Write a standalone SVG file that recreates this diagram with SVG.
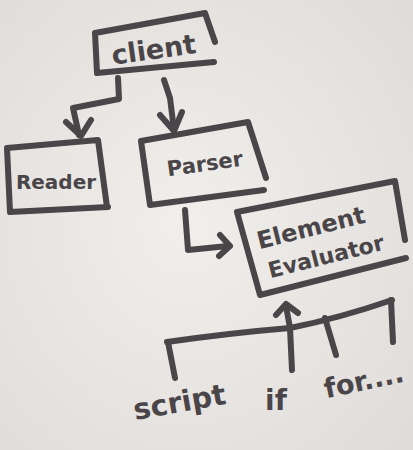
<svg xmlns="http://www.w3.org/2000/svg" width="413" height="450" viewBox="0 0 413 450">
<defs>
<radialGradient id="bg" cx="0.45" cy="0.5" r="0.75">
<stop offset="0" stop-color="#f1efec"/>
<stop offset="1" stop-color="#dedbd8"/>
</radialGradient>
<style>
.ln{fill:none;stroke:#4a4548;stroke-width:6;stroke-linecap:round;stroke-linejoin:round}
.tx{font-family:"DejaVu Sans",sans-serif;font-weight:bold;fill:#4a4548;text-anchor:middle}
</style>
</defs>
<rect width="413" height="450" fill="url(#bg)"/>
<g id="client">
<path class="ln" d="M95,33 L205,13 M205,13 L215,42 M95,33 L97,73 L214,62"/>
<text class="tx" x="154" y="59" font-size="27" transform="rotate(-8 154 52)">client</text>
</g>
<g id="reader">
<path class="ln" d="M7,148 L98,140 L107,207 M7,148 L10,212 L108,207"/>
<text class="tx" x="56" y="189" font-size="20">Reader</text>
</g>
<g id="parser">
<path class="ln" d="M141,141 L248,122 L266,178 M141,141 L150,205 L264,190"/>
<text class="tx" x="205" y="171" font-size="21" transform="rotate(-8 205 165)">Parser</text>
</g>
<g id="evaluator">
<path class="ln" d="M237,212 L395,181 L405,240 M237,212 L260,295 L406,258"/>
<text class="tx" x="311" y="236" font-size="24" transform="rotate(-14 311 228)">Element</text>
<text class="tx" x="326" y="264" font-size="22" transform="rotate(-14 326 256)">Evaluator</text>
</g>
<g id="script"><text class="tx" x="180" y="412" font-size="29" transform="rotate(-10 180 405)">script</text></g>
<g id="if"><text class="tx" x="276" y="410" font-size="28">if</text></g>
<g id="for"><text class="tx" x="364" y="390" font-size="27" transform="rotate(-12 364 382)">for....</text></g>
<g id="connectors">
<path class="ln" d="M118,78 L119,99 L73,108 L79,135"/>
<path class="ln" d="M66,122 L81,136 L91,120"/>
<path class="ln" d="M164,80 L170,98 L174,130"/>
<path class="ln" d="M160,115 L174,131 L182,112"/>
<path class="ln" d="M185,210 L188,250 L228,246"/>
<path class="ln" d="M220,235 L230,246 L219,256"/>
<path class="ln" d="M167,342 Q230,333 290,328 Q340,318 392,300"/>
<path class="ln" d="M168,342 L175,378"/>
<path class="ln" d="M286,306 L290,328 L292,370"/>
<path class="ln" d="M276,315 L286,304 L298,313"/>
<path class="ln" d="M325,318 L336,355"/>
<path class="ln" d="M391,300 L393,342"/>
</g>
</svg>
